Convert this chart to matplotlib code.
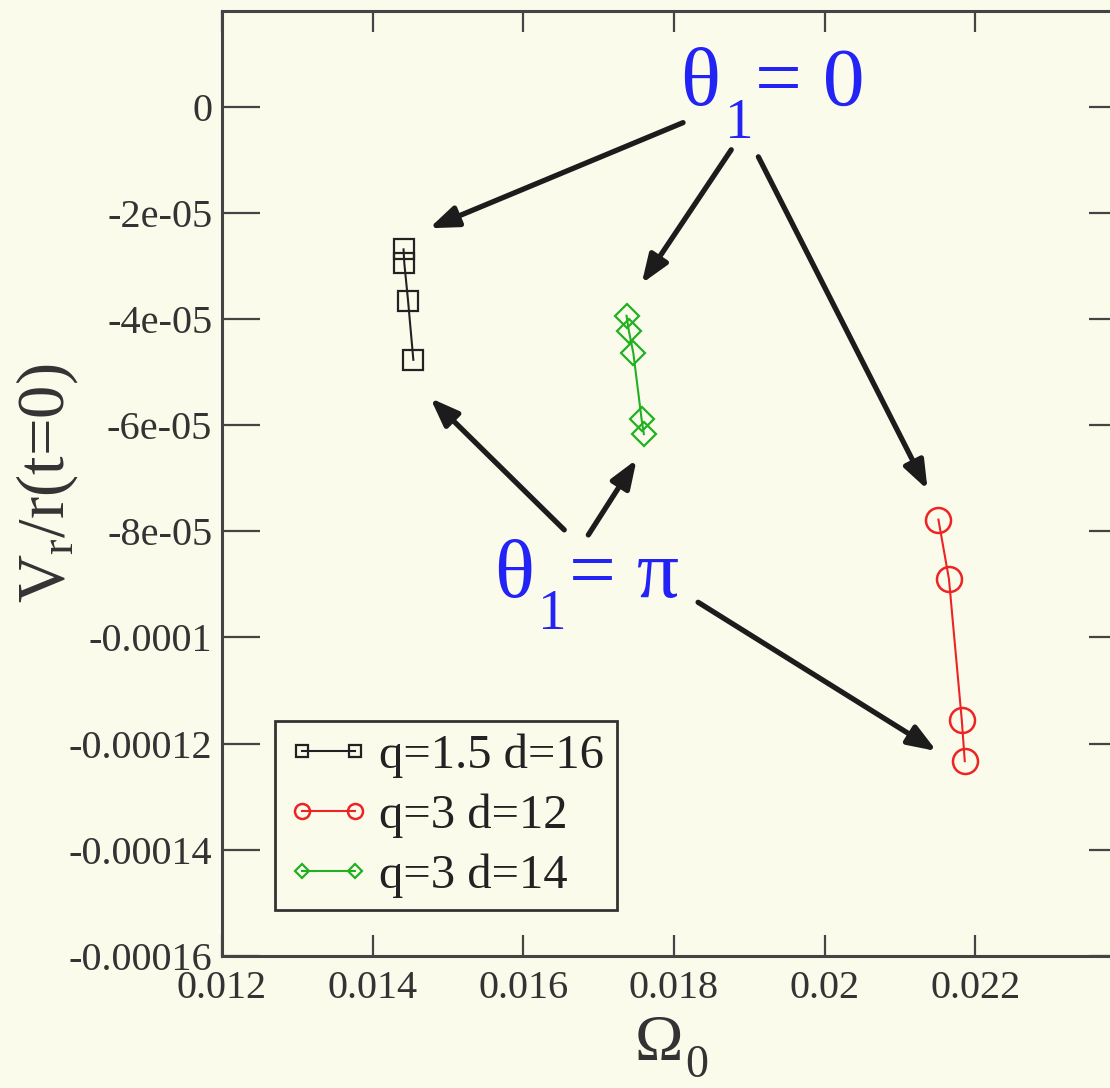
import matplotlib.pyplot as plt

plt.rcParams['font.family'] = ['Liberation Serif', 'DejaVu Serif']
plt.rcParams['mathtext.fontset'] = 'custom'
plt.rcParams['mathtext.rm'] = 'Liberation Serif'
plt.rcParams['mathtext.it'] = 'Liberation Serif:italic'
plt.rcParams['mathtext.bf'] = 'Liberation Serif:bold'

# radial velocity vs. initial orbital frequency, one series per run
omega_q15_d16 = [0.01441, 0.01442, 0.01447, 0.01454]
vr_q15_d16 = [-2.69e-5, -2.95e-5, -3.66e-5, -4.77e-5]

omega_q3_d12 = [0.02151, 0.02165, 0.02182, 0.02186]
vr_q3_d12 = [-7.78e-5, -8.90e-5, -1.155e-4, -1.233e-4]

omega_q3_d14 = [0.01737, 0.01740, 0.01746, 0.01757, 0.01760]
vr_q3_d14 = [-3.94e-5, -4.22e-5, -4.64e-5, -5.89e-5, -6.17e-5]

xticks = [0.012, 0.014, 0.016, 0.018, 0.02, 0.022]
xtick_labels = ['0.012', '0.014', '0.016', '0.018', '0.02', '0.022']
yticks = [0, -2e-5, -4e-5, -6e-5, -8e-5, -1e-4, -1.2e-4, -1.4e-4, -1.6e-4]
ytick_labels = ['0', '-2e-05', '-4e-05', '-6e-05', '-8e-05', '-0.0001',
                '-0.00012', '-0.00014', '-0.00016']

bg = '#fbfbec'
ink = '#333333'

fig = plt.figure(figsize=(11.1, 10.88), dpi=100, facecolor=bg)
ax = fig.add_axes([0.2, 0.1213, 0.8144, 0.8686], facecolor=bg)

ax.plot(omega_q15_d16, vr_q15_d16, '-', color='#222222', lw=1.5,
        marker='s', ms=14.5, mfc='none', mew=1.6, label='q=1.5 d=16')
ax.plot(omega_q3_d12, vr_q3_d12, '-', color='#ee2424', lw=1.5,
        marker='o', ms=18, mfc='none', mew=1.8, label='q=3 d=12')
ax.plot(omega_q3_d14, vr_q3_d14, '-', color='#22b022', lw=1.5,
        marker='D', ms=12.5, mfc='none', mew=1.6, label='q=3 d=14')

ax.set_xlim(0.012, 0.024)
ax.set_ylim(-0.00016, 1.8e-5)
ax.set_xticks(xticks)
ax.set_xticklabels(xtick_labels)
ax.set_yticks(yticks)
ax.set_yticklabels(ytick_labels)

for s in ax.spines.values():
    s.set_color('#444444')
    s.set_linewidth(2.2)

ax.tick_params(axis='both', which='major', direction='in', top=True, right=True,
               width=1.6, color='#444444', labelsize=29, labelcolor=ink)
ax.tick_params(axis='x', length=15, pad=10)
ax.tick_params(axis='y', length=27, pad=7)

# Omega with a dropped subscript
ax.set_xlabel('Ω', fontsize=47, color=ink, ha='left', va='baseline')
ax.xaxis.set_label_coords(0.457, -0.110)
ax.text(0.512, -0.128, '0', fontsize=33, color=ink, transform=ax.transAxes,
        ha='left', va='baseline')

ax.set_ylabel(r'V$_\mathrm{r}$/r(t=0)', fontsize=48, color=ink)
ax.yaxis.set_label_coords(-0.157, 0.5)

# theta_1 labels, built from symbol + subscript + rest
blue = '#2323f5'
for (x0, y0), (xs, ys), (xr, rest) in [
        ((0.01808, 3.8e-7), (0.01868, -5.87e-6), (0.019081, '= 0')),
        ((0.015607, -9.242e-5), (0.016195, -9.848e-5), (0.016609, '= π'))]:
    ax.text(x0, y0, 'θ', fontsize=60, color=blue, ha='left', va='baseline')
    ax.text(xs, ys, '1', fontsize=41, color=blue, ha='left', va='baseline')
    ax.text(xr, y0, rest, fontsize=60, color=blue, ha='left', va='baseline')

arrow = dict(arrowstyle='-|>,head_length=0.85,head_width=0.32', color='#1c1c1c',
             lw=3.8, mutation_scale=20, shrinkA=0, shrinkB=0)
arrows = [
    ((0.01812, -3.03e-6), (0.014752, -2.292e-5)),
    ((0.01876, -8.14e-6), (0.017571, -3.333e-5)),
    ((0.01912, -9.47e-6), (0.021366, -7.216e-5)),
    ((0.016543, -7.973e-5), (0.014766, -5.492e-5)),
    ((0.016863, -8.068e-5), (0.017504, -6.648e-5)),
    ((0.01832, -9.337e-5), (0.021486, -1.2140e-4)),
]
for tail, head in arrows:
    ax.annotate('', xy=head, xytext=tail, arrowprops=arrow)

leg = ax.legend(loc='lower left', bbox_to_anchor=(0.0586, 0.0487),
                borderaxespad=0, numpoints=2, markerscale=0.6, fontsize=35,
                handlelength=1.7, handletextpad=0.2, labelspacing=0.32,
                borderpad=0.25, fancybox=False, framealpha=1,
                facecolor=bg, edgecolor='#333333')
leg.get_frame().set_linewidth(2.0)
for t in leg.get_texts():
    t.set_color('#222222')

fig.savefig('out.png', dpi=100, facecolor=bg)
